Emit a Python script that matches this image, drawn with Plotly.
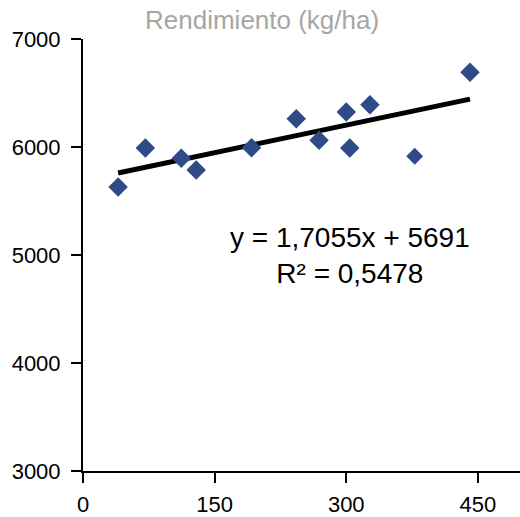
import plotly.graph_objects as go

x_vals = [40, 71, 112, 129, 192, 243, 269, 300, 304, 327, 378, 441]
y_vals = [5630, 5990, 5895, 5787, 5994, 6262, 6062, 6325, 5990, 6392, 5915, 6692]
marker_sizes = [15, 15, 15, 15, 15, 15, 15, 15, 15, 15, 13, 15]
slope = 1.7055
intercept = 5691
eq_text = "y = 1,7055x + 5691<br>R² = 0,5478"
title_text = "Rendimiento (kg/ha)"
x_ticks = [0, 150, 300, 450]
y_ticks = [3000, 4000, 5000, 6000, 7000]

x_line = [min(x_vals), max(x_vals)]
y_line = [slope * v + intercept for v in x_line]

FONT = "Liberation Sans, Arial"

fig = go.Figure()
fig.add_trace(go.Scatter(x=x_line, y=y_line, mode="lines",
                         line=dict(color="black", width=5), showlegend=False,
                         hoverinfo="skip"))
fig.add_trace(go.Scatter(x=x_vals, y=y_vals, mode="markers",
                         marker=dict(symbol="diamond", size=marker_sizes, color="#2E4A87",
                                     opacity=1, line=dict(width=0)),
                         showlegend=False))

fig.add_annotation(x=304, y=5000, xref="x", yref="y", text=eq_text, showarrow=False,
                   font=dict(family=FONT, size=28, color="black"),
                   align="center", xanchor="center", yanchor="middle")

fig.update_layout(
    width=520, height=517,
    margin=dict(l=83, r=0, t=39, b=46),
    paper_bgcolor="white", plot_bgcolor="white",
    title=dict(text=title_text, x=0.504, xanchor="center", y=0.961, yanchor="middle",
               font=dict(family=FONT, size=26, color="#A6A6A6")),
    font=dict(family=FONT, size=22, color="black"),
)
fig.update_xaxes(range=[0, 498], tickvals=x_ticks, showgrid=False, zeroline=False,
                 showline=True, linecolor="black", linewidth=2, automargin=False,
                 ticks="outside", ticklen=10, tickwidth=2, tickcolor="black",
                 ticklabelstandoff=3,
                 tickfont=dict(family=FONT, size=22, color="black"))
fig.update_yaxes(range=[3000, 7000], tickvals=y_ticks, showgrid=False, zeroline=False,
                 showline=True, linecolor="black", linewidth=2, automargin=False,
                 ticks="outside", ticklen=10, tickwidth=2, tickcolor="black",
                 ticklabelstandoff=6,
                 tickfont=dict(family=FONT, size=22, color="black"))

fig.write_html("out.html")
